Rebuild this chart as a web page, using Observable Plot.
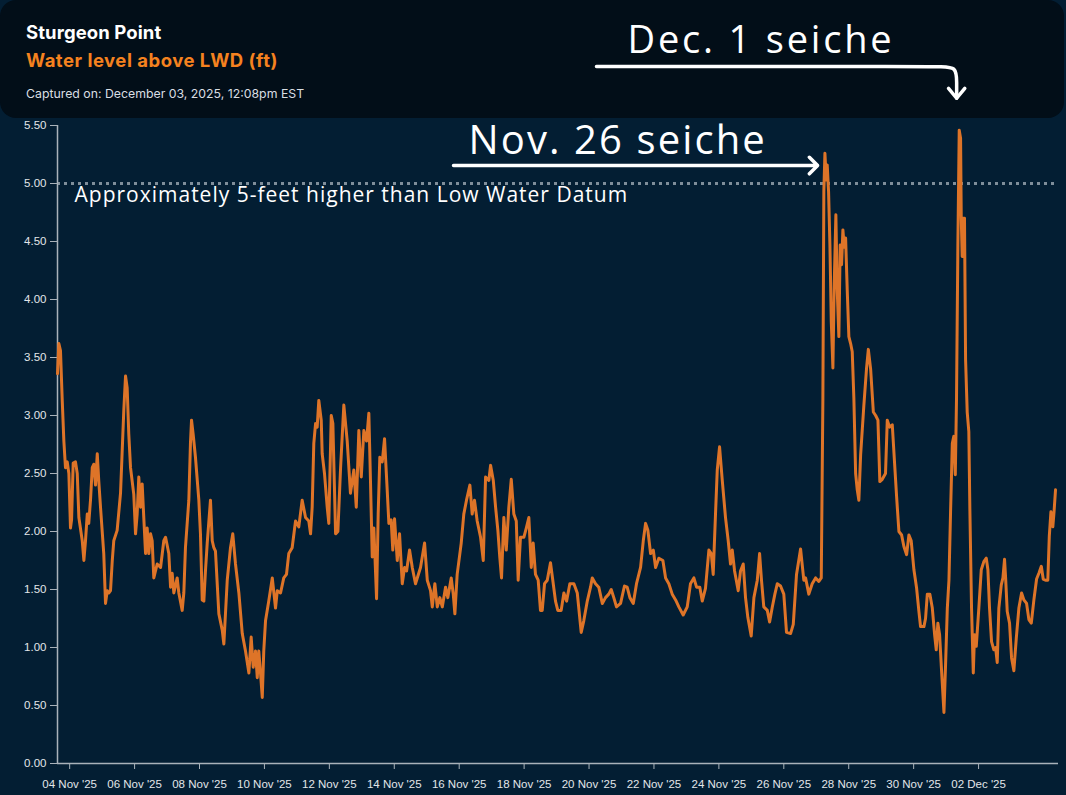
<!DOCTYPE html>
<html>
<head>
<meta charset="utf-8">
<script src="https://cdn.jsdelivr.net/npm/d3@7"></script>
<script src="https://cdn.jsdelivr.net/npm/@observablehq/plot@0.6"></script>
<style>
  html, body { margin: 0; padding: 0; background: #031e33; width: 1066px; height: 795px; overflow: hidden; }
  #wrap { position: relative; width: 1066px; height: 795px; }
  #header { position: absolute; left: 0; top: 0; width: 1064px; height: 118px; background: #020e18; border-radius: 16px; font-family: Inter, "Noto Sans", sans-serif; }
  #header div { position: absolute; left: 26px; white-space: nowrap; line-height: 1; }
  #title { top: 23px; font-size: 18.5px; font-weight: 700; color: #ffffff; letter-spacing: 0.1px; }
  #subtitle { top: 51px; font-size: 18.5px; font-weight: 700; color: #f5821f; letter-spacing: 0.5px; }
  #captured { top: 88px; font-size: 12.3px; font-weight: 400; color: #d9dee3; }
  #chart { position: absolute; left: 0; top: 0; }
</style>
</head>
<body>
<div id="wrap">
  <div id="header">
    <div id="title">Sturgeon Point</div>
    <div id="subtitle">Water level above LWD (ft)</div>
    <div id="captured">Captured on: December 03, 2025, 12:08pm EST</div>
  </div>
  <div id="chart"></div>
</div>
<script>
// ---- data (hours after 2025-11-03 15:00 UTC, water level ft above LWD) ----
const seriesStart = "2025-11-03T15:00:00Z";
const hours = [
0.0,1.0,2.2,3.5,4.7,5.9,7.2,8.4,9.6,10.4,
11.6,13.3,14.6,15.8,18.3,19.5,20.7,22.0,23.1,24.4,
25.7,26.8,28.1,29.4,30.5,31.8,34.2,35.5,36.8,37.9,
39.2,40.5,41.6,44.1,46.6,49.0,50.3,51.5,52.7,54.0,
56.4,57.7,58.9,60.1,61.4,62.6,63.8,65.1,66.3,67.5,
68.8,70.0,71.2,73.7,76.2,78.6,79.9,82.3,83.6,84.8,
86.0,88.5,89.7,92.2,93.4,94.6,97.1,98.3,99.1,100.3,
102.0,104.5,105.7,107.0,108.2,109.4,110.7,113.1,114.4,115.6,
116.8,119.3,121.8,123.0,125.5,127.9,129.6,131.6,134.1,136.6,
139.0,141.5,143.2,144.7,146.4,147.7,148.8,150.1,151.4,152.5,
153.8,156.2,158.8,161.2,162.5,164.9,167.3,169.3,171.0,173.5,
176.0,178.4,180.9,183.4,185.8,187.1,188.3,189.5,190.8,192.0,
193.2,195.0,195.7,197.4,199.4,200.6,202.4,203.6,205.6,207.3,
209.3,211.7,214.2,216.6,219.1,220.9,222.8,224.6,226.5,228.5,
230.2,231.4,232.7,233.9,235.9,237.1,238.3,240.1,241.8,243.8,
245.0,246.7,247.9,249.2,251.2,252.9,254.9,256.6,258.1,260.3,
262.3,264.7,268.4,271.4,273.4,275.8,277.1,279.0,280.8,282.7,
284.5,286.9,288.6,291.1,292.6,293.8,295.5,298.5,300.4,302.4,
304.9,306.6,308.3,310.3,312.8,314.8,316.5,318.9,320.2,322.2,
323.9,325.6,327.0,328.3,330.0,331.8,333.7,335.5,337.4,339.2,
340.6,342.3,344.8,346.6,348.5,350.3,351.7,353.4,355.4,357.1,
358.4,360.1,362.1,364.5,366.2,368.2,369.9,372.4,374.4,376.4,
378.8,381.8,384.3,387.2,389.1,391.7,394.1,395.4,397.8,400.2,
402.8,405.2,407.6,409.4,411.3,413.3,416.3,419.2,421.2,423.2,
425.7,428.1,431.1,433.1,434.8,436.5,438.5,440.5,442.2,444.6,
447.6,449.6,452.0,454.5,457.0,459.4,462.6,465.6,468.0,470.5,
472.5,474.9,476.7,479.1,481.6,483.4,484.8,486.5,487.8,489.5,
491.5,493.9,495.9,497.6,498.9,500.6,503.3,505.0,507.0,508.7,
510.4,512.9,514.9,517.4,519.1,520.5,522.2,524.8,526.5,528.5,
530.4,532.2,534.6,537.0,539.0,542.0,544.0,546.4,549.4,551.8,
553.1,555.5,558.0,560.5,562.9,564.7,565.9,566.6,567.4,568.4,
569.1,570.1,571.1,572.1,573.3,574.3,575.5,576.5,577.7,578.7,
579.7,580.7,581.7,582.7,583.9,585.1,586.4,587.6,588.8,590.1,
591.3,592.5,593.8,596.2,598.2,599.5,601.2,603.2,604.9,606.6,
608.0,609.8,612.2,613.5,615.2,617.2,618.9,620.4,622.1,624.1,
625.8,627.8,629.5,631.2,633.2,635.2,636.9,638.1,640.6,641.8,
643.1,645.0,646.8,648.5,649.7,650.9,652.2,653.4,655.4,656.6,
657.9,659.1,660.3,661.6,662.7,663.8,664.7,665.7,666.7,667.7,
668.2,668.9,669.7,670.6,671.4,672.6,673.8,674.6,675.8,677.1,
678.0,679.3,681.2,683.0,684.9,686.7,687.9,689.1,690.6,692.3,
693.6,694.8,696.0,697.8,699.0,700.2,701.0,702.2,703.9,705.4,
707.1,708.9,710.8,712.8,714.5,716.5,718.2,720.0,721.9,723.9,
725.6,727.4,728.8,730.5,732.2,733.3,734.5,735.9,736.8,737.9
];
const levels = [
3.36,3.62,3.56,3.13,2.78,2.55,2.6,2.5,2.03,2.1,
2.59,2.6,2.5,2.12,1.92,1.75,1.92,2.15,2.07,2.27,
2.55,2.58,2.4,2.67,2.44,2.21,1.81,1.38,1.49,1.47,
1.49,1.75,1.92,2.01,2.33,3.04,3.34,3.24,2.84,2.55,
2.32,1.98,2.15,2.47,2.21,2.41,2.12,1.81,2.03,1.81,
1.98,1.92,1.6,1.72,1.69,1.92,1.95,1.81,1.52,1.64,
1.47,1.6,1.47,1.32,1.47,1.86,2.27,2.76,2.96,2.84,
2.64,2.27,1.98,1.41,1.4,1.66,1.9,2.27,1.92,1.86,
1.83,1.29,1.15,1.03,1.58,1.86,1.98,1.72,1.47,1.12,
0.97,0.78,1.09,0.83,0.97,0.74,0.97,0.78,0.57,0.97,
1.23,1.4,1.6,1.34,1.49,1.47,1.6,1.63,1.81,1.86,
2.09,2.04,2.27,2.12,2.09,1.98,2.21,2.76,2.93,2.9,
3.13,2.96,2.67,2.5,2.21,2.07,3.0,2.93,1.98,2.0,
2.55,3.09,2.78,2.33,2.53,2.21,2.87,2.47,2.87,2.78,
3.02,2.44,1.78,2.03,1.42,2.15,2.64,2.6,2.8,2.35,
2.07,2.1,1.84,2.11,1.75,1.98,1.55,1.69,1.66,1.84,
1.69,1.55,1.69,1.9,1.58,1.49,1.35,1.55,1.35,1.43,
1.35,1.52,1.43,1.6,1.46,1.29,1.63,1.9,2.15,2.27,
2.4,2.15,2.27,2.09,1.95,1.75,2.47,2.44,2.57,2.44,
2.21,2.01,1.78,1.6,2.12,1.84,2.21,2.45,2.15,2.09,
1.58,1.95,1.95,2.03,2.12,1.69,1.9,1.63,1.58,1.32,
1.32,1.55,1.58,1.73,1.58,1.4,1.32,1.32,1.47,1.4,
1.55,1.55,1.47,1.13,1.23,1.4,1.52,1.6,1.55,1.52,
1.38,1.43,1.46,1.5,1.43,1.35,1.38,1.53,1.52,1.43,
1.38,1.55,1.69,1.92,2.07,2.01,1.81,1.84,1.69,1.77,
1.75,1.6,1.55,1.46,1.41,1.35,1.28,1.35,1.55,1.6,
1.52,1.52,1.4,1.51,1.84,1.81,1.63,2.15,2.53,2.73,
2.44,2.12,1.92,1.72,1.84,1.66,1.49,1.66,1.72,1.43,
1.26,1.1,1.43,1.58,1.81,1.58,1.35,1.32,1.22,1.35,
1.46,1.55,1.53,1.46,1.13,1.12,1.2,1.63,1.85,1.58,
1.6,1.46,1.55,1.6,1.57,1.6,3.15,4.93,5.26,5.03,
5.16,4.93,4.47,3.81,3.41,4.14,4.73,4.08,3.68,4.47,
4.3,4.6,4.45,4.53,4.08,3.68,3.62,3.55,3.15,2.5,
2.36,2.27,2.66,3.09,3.41,3.57,3.4,3.03,3.0,2.96,
2.43,2.45,2.5,2.96,2.9,2.92,2.59,2.3,2.0,1.97,
1.87,1.8,1.97,1.92,1.67,1.51,1.31,1.18,1.18,1.25,
1.46,1.46,1.34,1.11,0.98,1.21,1.11,0.85,0.44,0.85,
1.34,1.58,2.17,2.76,2.82,2.49,3.15,4.47,5.46,5.39,
4.7,4.37,4.7,4.7,3.48,3.03,2.86,2.17,1.34,0.78,
1.11,1.01,1.34,1.67,1.74,1.77,1.67,1.34,1.05,0.98,
1.0,0.87,1.34,1.54,1.6,1.76,1.6,1.31,1.21,0.91,
0.8,1.08,1.34,1.47,1.41,1.38,1.24,1.21,1.41,1.59,
1.64,1.7,1.59,1.58,1.58,1.96,2.17,2.04,2.17,2.36
];
const domainHours = [0, 740.1];
const xTickDates = ["2025-11-04","2025-11-06","2025-11-08","2025-11-10","2025-11-12","2025-11-14","2025-11-16",
  "2025-11-18","2025-11-20","2025-11-22","2025-11-24","2025-11-26","2025-11-28","2025-11-30","2025-12-02"];
const yTicks = [0, 0.5, 1, 1.5, 2, 2.5, 3, 3.5, 4, 4.5, 5, 5.5];

// reference line and annotations (in data units: hours, feet)
const lwdLine = 5.0;
const lwdNote = {hour: 12.6, level: 4.84, text: "Approximately 5-feet higher than Low Water Datum"};
const nov26 = {text: "Nov. 26 seiche", labelHour: 303.9, labelLevel: 5.255, arrowFrom: 292.8, arrowTo: 562.0, arrowLevel: 5.155};
const dec1 = {text: "Dec. 1 seiche", labelHour: 421.5, labelLevel: 6.123,
  path: [[398.5, 6.009], [652.0, 6.009], [664.8, 6.009], [664.8, 5.87], [664.8, 5.735]],
  head: [[658.8, 5.82], [664.8, 5.735], [670.8, 5.82]]};

// ---- build ----
const t0 = new Date(seriesStart).getTime();
const toDate = h => new Date(t0 + h * 3600e3);
const data = hours.map((h, i) => ({time: toDate(h), level: levels[i]}));
const dec1Path = dec1.path.map(([h, v]) => ({time: toDate(h), level: v}));
const dec1Head = dec1.head.map(([h, v]) => ({time: toDate(h), level: v}));
const annFont = "'Open Sans', 'Noto Sans', sans-serif";

const chart = Plot.plot({
  width: 1066,
  height: 795,
  marginLeft: 57,
  marginRight: 8,
  marginTop: 125,
  marginBottom: 32,
  style: {background: "transparent", color: "#e2e6ea", fontFamily: "'Liberation Sans', Arial, sans-serif", fontSize: "11.5px"},
  x: {type: "utc", domain: domainHours.map(toDate), label: null},
  y: {domain: [0, 5.5], label: null},
  marks: [
    Plot.ruleY([lwdLine], {stroke: "#7f8e9a", strokeWidth: 3, strokeDasharray: "3,4"}),
    Plot.axisY({ticks: yTicks, tickFormat: d3.format(".2f"), tickSize: 7, tickPadding: 4, stroke: "#a9b2ba", label: null}),
    Plot.axisX({ticks: xTickDates.map(d => new Date(d + "T00:00:00Z")), tickFormat: d3.utcFormat("%d %b '%y"), tickSize: 6, tickPadding: 10, stroke: "#a9b2ba", label: null}),
    Plot.ruleX([toDate(domainHours[0])], {stroke: "#a9b2ba", strokeWidth: 1.5}),
    Plot.ruleY([0], {stroke: "#a9b2ba", strokeWidth: 1.5}),
    Plot.line(data, {x: "time", y: "level", stroke: "#de7428", strokeWidth: 3, strokeLinejoin: "round"}),
    Plot.text([lwdNote], {x: d => toDate(d.hour), y: "level", text: "text", textAnchor: "start", lineAnchor: "bottom",
      fill: "#ffffff", fontSize: 21, fontFamily: annFont}),
    Plot.text([nov26], {x: d => toDate(d.labelHour), y: "labelLevel", text: "text", textAnchor: "start", lineAnchor: "bottom",
      fill: "#ffffff", fontSize: 40, fontWeight: 500, fontFamily: annFont}),
    Plot.arrow([nov26], {x1: d => toDate(d.arrowFrom), x2: d => toDate(d.arrowTo), y1: "arrowLevel", y2: "arrowLevel",
      stroke: "#ffffff", strokeWidth: 3.5, headLength: 5, headAngle: 90}),
    Plot.text([dec1], {x: d => toDate(d.labelHour), y: "labelLevel", text: "text", textAnchor: "start", lineAnchor: "bottom",
      fill: "#ffffff", fontSize: 38, fontWeight: 500, fontFamily: annFont}),
    Plot.line(dec1Path, {x: "time", y: "level", curve: "basis", stroke: "#ffffff", strokeWidth: 3.5}),
    Plot.line(dec1Head, {x: "time", y: "level", stroke: "#ffffff", strokeWidth: 3.5, strokeLinecap: "round", strokeLinejoin: "round"})
  ]
});
document.getElementById("chart").appendChild(chart);

// letter spacing for the wide annotation lettering
d3.select(chart).selectAll("text").each(function() {
  const s = this.textContent;
  if (s === nov26.text) this.setAttribute("letter-spacing", "2.1");
  if (s === dec1.text) this.setAttribute("letter-spacing", "2.8");
  if (s === lwdNote.text) this.setAttribute("letter-spacing", "1.0");
});
</script>
</body>
</html>
